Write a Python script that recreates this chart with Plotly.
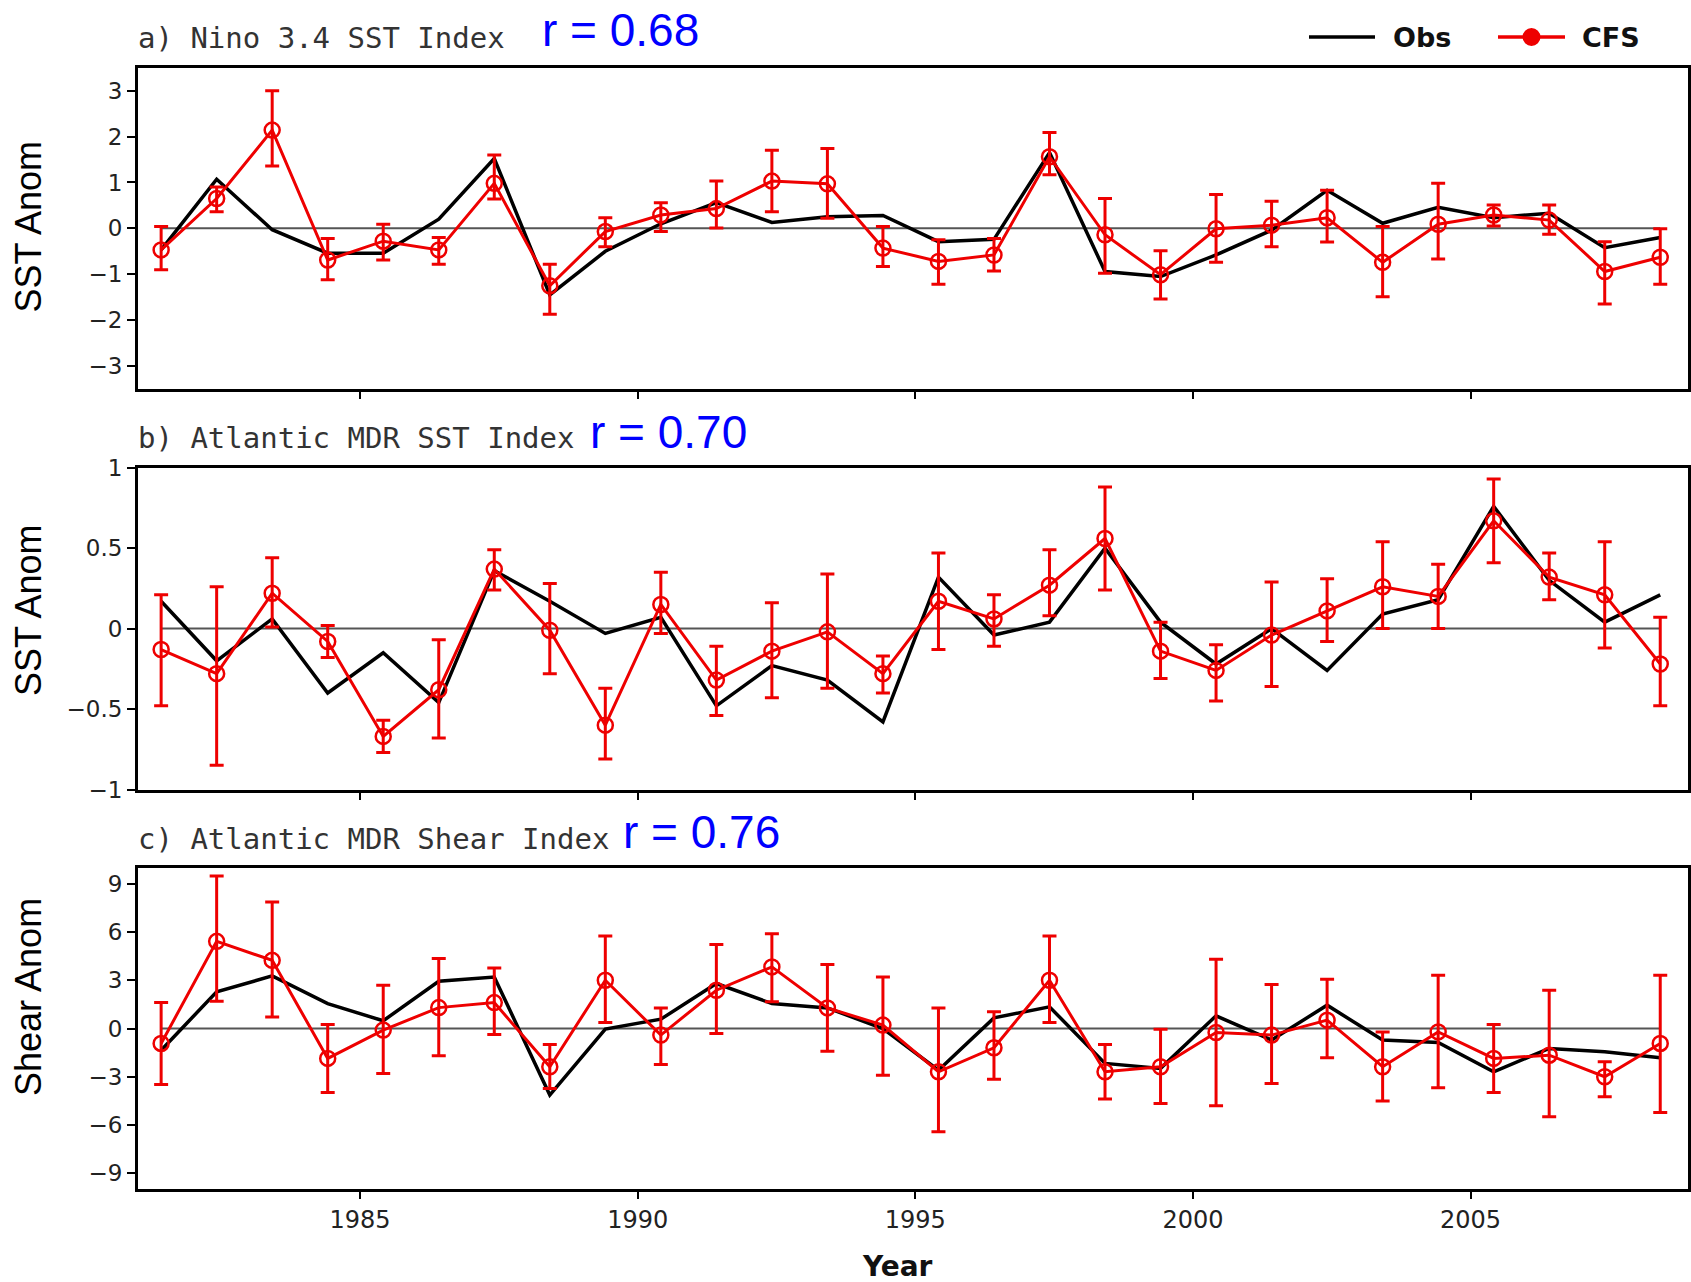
import plotly.graph_objects as go

years = list(range(1981, 2009))

nino_obs = [-0.47, 1.07, -0.03, -0.54, -0.54, 0.20, 1.52, -1.45, -0.50, 0.10, 0.56, 0.13, 0.25, 0.28,
            -0.29, -0.24, 1.65, -0.94, -1.05, -0.58, -0.04, 0.83, 0.11, 0.46, 0.23, 0.33, -0.42, -0.20]
nino_cfs = [-0.47, 0.65, 2.14, -0.69, -0.28, -0.47, 0.98, -1.25, -0.07, 0.29, 0.43, 1.03, 0.97, -0.43,
            -0.72, -0.58, 1.56, -0.14, -1.01, -0.01, 0.07, 0.23, -0.74, 0.09, 0.29, 0.18, -0.94, -0.63]
nino_hi = [0.04, 0.90, 3.00, -0.22, 0.09, -0.20, 1.60, -0.78, 0.23, 0.56, 1.03, 1.70, 1.74, 0.04,
           -0.25, -0.22, 2.09, 0.65, -0.49, 0.74, 0.59, 0.83, 0.04, 0.98, 0.51, 0.51, -0.29, -0.01]
nino_lo = [-0.90, 0.36, 1.36, -1.12, -0.69, -0.78, 0.64, -1.87, -0.40, -0.07, 0.01, 0.36, 0.22, -0.83,
           -1.22, -0.93, 1.17, -0.98, -1.54, -0.74, -0.40, -0.30, -1.49, -0.67, 0.05, -0.13, -1.65, -1.22]

mdr_obs = [0.17, -0.20, 0.06, -0.40, -0.15, -0.46, 0.36, 0.17, -0.03, 0.07, -0.48, -0.23, -0.32, -0.58,
           0.32, -0.04, 0.04, 0.50, 0.04, -0.22, 0.00, -0.26, 0.09, 0.18, 0.76, 0.30, 0.04, 0.21]
mdr_cfs = [-0.13, -0.28, 0.22, -0.08, -0.67, -0.38, 0.37, -0.01, -0.60, 0.15, -0.32, -0.14, -0.02, -0.28,
           0.17, 0.06, 0.27, 0.56, -0.14, -0.26, -0.04, 0.11, 0.26, 0.20, 0.67, 0.32, 0.21, -0.22]
mdr_hi = [0.21, 0.26, 0.44, 0.02, -0.57, -0.07, 0.49, 0.28, -0.37, 0.35, -0.11, 0.16, 0.34, -0.17,
          0.47, 0.21, 0.49, 0.88, 0.04, -0.10, 0.29, 0.31, 0.54, 0.40, 0.93, 0.47, 0.54, 0.07]
mdr_lo = [-0.48, -0.85, 0.01, -0.18, -0.77, -0.68, 0.24, -0.28, -0.81, -0.03, -0.54, -0.43, -0.37, -0.40,
          -0.13, -0.11, 0.08, 0.24, -0.31, -0.45, -0.36, -0.08, 0.00, 0.00, 0.41, 0.18, -0.12, -0.48]

shear_obs = [-1.35, 2.28, 3.27, 1.55, 0.48, 2.94, 3.20, -4.14, -0.04, 0.58, 2.80, 1.55, 1.28, 0.00,
             -2.59, 0.66, 1.35, -2.17, -2.48, 0.79, -0.72, 1.45, -0.72, -0.87, -2.69, -1.24, -1.45, -1.82]
shear_cfs = [-0.93, 5.42, 4.24, -1.86, -0.10, 1.30, 1.61, -2.38, 3.00, -0.41, 2.38, 3.83, 1.28, 0.21,
             -2.69, -1.20, 3.00, -2.69, -2.38, -0.25, -0.41, 0.52, -2.38, -0.21, -1.86, -1.66, -3.00, -0.93]
shear_hi = [1.61, 9.48, 7.87, 0.25, 2.69, 4.35, 3.77, -0.99, 5.76, 1.28, 5.22, 5.90, 3.98, 3.20,
            1.28, 1.04, 5.76, -0.99, -0.04, 4.31, 2.73, 3.06, -0.21, 3.31, 0.25, 2.38, -2.07, 3.31]
shear_lo = [-3.48, 1.70, 0.72, -3.98, -2.80, -1.70, -0.37, -3.73, 0.37, -2.24, -0.31, 1.66, -1.41, -2.90,
            -6.42, -3.15, 0.37, -4.39, -4.66, -4.80, -3.42, -1.82, -4.51, -3.69, -3.98, -5.49, -4.24, -5.22]

titles = ["a) Nino 3.4 SST Index", "b) Atlantic MDR SST Index", "c) Atlantic MDR Shear Index"]
r_labels = ["r = 0.68", "r = 0.70", "r = 0.76"]
ytitles = ["SST Anom", "SST Anom", "Shear Anom"]
legend_names = ["Obs", "CFS"]
xtick_vals = [1985, 1990, 1995, 2000, 2005]
ytick_sets = [[-3, -2, -1, 0, 1, 2, 3], [-1, -0.5, 0, 0.5, 1], [-9, -6, -3, 0, 3, 6, 9]]
yranges = [[-3.5, 3.5], [-1, 1], [-10, 10]]

RED = "#ee0000"
W, H = 1691, 1282
OFF = 0  # page body margin is reset to 0 below, so page pixels == figure pixels
panels = [(nino_obs, nino_cfs, nino_hi, nino_lo),
          (mdr_obs, mdr_cfs, mdr_hi, mdr_lo),
          (shear_obs, shear_cfs, shear_hi, shear_lo)]
frames_px = [(67.7, 389.0), (467.7, 789.5), (867.7, 1189.3)]
title_mid = [38, 438.5, 838.5]
r_mid = [30, 432, 832]
r_left = [540, 588, 621]
ytitle_mid = [227.5, 611, 997]


def px(x):
    return (x - OFF) / W


def py(y):
    return 1 - (y - OFF) / H


xs = [y + 5 / 12 for y in years]

fig = go.Figure()
layout = dict(width=W, height=H, margin=dict(l=0, r=0, t=0, b=0, autoexpand=False),
              paper_bgcolor="white", plot_bgcolor="white", annotations=[], shapes=[],
              showlegend=False, font=dict(family="DejaVu Sans", color="#222"))
tick_font = dict(family="DejaVu Sans", size=23, color="#222")

for i, (obs, cfs, hi, lo) in enumerate(panels):
    n = "" if i == 0 else str(i + 1)
    xa, ya = "x" + n, "y" + n
    fig.add_trace(go.Scatter(x=xs, y=[0] * len(xs), mode="lines", xaxis=xa, yaxis=ya,
                             line=dict(color="#555555", width=2), hoverinfo="skip"))
    fig.add_trace(go.Scatter(x=xs, y=obs, mode="lines", name=legend_names[0], xaxis=xa, yaxis=ya,
                             line=dict(color="black", width=3.5)))
    plus = [h - c for h, c in zip(hi, cfs)]
    minus = [c - l for c, l in zip(cfs, lo)]
    fig.add_trace(go.Scatter(x=xs, y=cfs, mode="lines+markers", name=legend_names[1], xaxis=xa, yaxis=ya,
                             line=dict(color=RED, width=3),
                             marker=dict(symbol="circle-open", size=15, color=RED,
                                         line=dict(width=2.5, color=RED)),
                             error_y=dict(type="data", array=plus, arrayminus=minus, visible=True,
                                          color=RED, thickness=3, width=7)))
    top, bot = frames_px[i]
    layout["xaxis" + n] = dict(domain=[px(138), px(1688)], range=[1981, 2009 - 1 / 12], anchor=ya,
                              tickvals=xtick_vals, ticktext=[str(v) for v in xtick_vals],
                              showticklabels=(i == 2), ticks="outside", ticklen=7, tickwidth=2,
                              tickcolor="black", showline=True, mirror=True, linewidth=3,
                              linecolor="black", showgrid=False, zeroline=False, automargin=False,
                              tickfont=dict(family="DejaVu Sans", size=24, color="#222"))
    layout["yaxis" + n] = dict(domain=[py(bot), py(top)], range=yranges[i], anchor=xa,
                              tickvals=ytick_sets[i], ticks="outside", ticklen=8, tickwidth=2,
                              tickcolor="black", showline=True, mirror=True, linewidth=3,
                              linecolor="black", showgrid=False, zeroline=False, automargin=False,
                              tickfont=tick_font)
    layout["annotations"].append(dict(text=titles[i], x=px(136), y=py(title_mid[i]),
                                      xref="paper", yref="paper", xanchor="left", yanchor="middle",
                                      showarrow=False,
                                      font=dict(family="DejaVu Sans Mono", size=29, color="#333")))
    layout["annotations"].append(dict(text=r_labels[i], x=px(r_left[i]), y=py(r_mid[i]),
                                      xref="paper", yref="paper", xanchor="left", yanchor="middle",
                                      showarrow=False,
                                      font=dict(family="Liberation Sans", size=46, color="#0000ff")))
    layout["annotations"].append(dict(text=ytitles[i], x=px(28), y=py(ytitle_mid[i]),
                                      xref="paper", yref="paper", xanchor="center", yanchor="middle",
                                      textangle=-90, showarrow=False,
                                      font=dict(family="Liberation Sans", size=36, color="black")))

layout["annotations"].append(dict(text="<b>Year</b>", x=px(897), y=py(1266), xref="paper", yref="paper",
                                  xanchor="center", yanchor="middle", showarrow=False,
                                  font=dict(family="DejaVu Sans", size=28, color="#111")))

# legend (drawn manually to match the original layout)
leg_y = py(37)
layout["shapes"].append(dict(type="line", xref="paper", yref="paper", x0=px(1309), x1=px(1375),
                             y0=leg_y, y1=leg_y, line=dict(color="black", width=3.5)))
layout["shapes"].append(dict(type="line", xref="paper", yref="paper", x0=px(1498), x1=px(1565),
                             y0=leg_y, y1=leg_y, line=dict(color=RED, width=3.5)))
layout["shapes"].append(dict(type="circle", xref="paper", yref="paper", x0=px(1524), x1=px(1539),
                             y0=py(44.5), y1=py(29.5), line=dict(color=RED, width=3), fillcolor=RED))
layout["annotations"].append(dict(text="<b>" + legend_names[0] + "</b>", x=px(1391), y=leg_y,
                                  xref="paper", yref="paper", xanchor="left", yanchor="middle",
                                  showarrow=False, font=dict(family="DejaVu Sans", size=27, color="#111")))
layout["annotations"].append(dict(text="<b>" + legend_names[1] + "</b>", x=px(1580), y=leg_y,
                                  xref="paper", yref="paper", xanchor="left", yanchor="middle",
                                  showarrow=False, font=dict(family="DejaVu Sans", size=27, color="#111")))

fig.update_layout(**layout)
fig.write_html("out.html", config={"displayModeBar": False},
               post_script="document.body.style.margin='0';document.body.style.overflow='hidden';")
